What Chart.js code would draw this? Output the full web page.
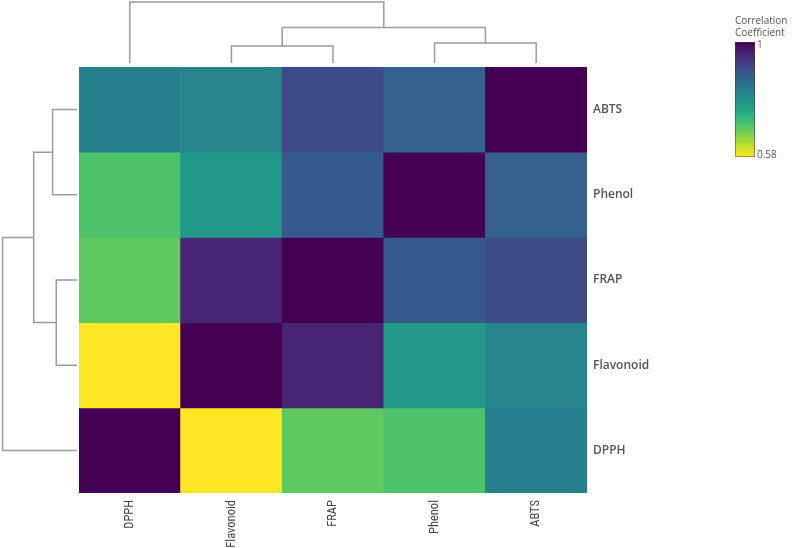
<!DOCTYPE html>
<html><head><meta charset="utf-8">
<script src="https://cdn.jsdelivr.net/npm/chart.js@4.4.1/dist/chart.umd.min.js"></script>
<style>html,body{margin:0;padding:0;background:#fff;} #c{display:block;}</style>
</head><body>
<canvas id="c" width="800" height="548"></canvas>
<script>
// ---- data ----
const columns = ['DPPH', 'Flavonoid', 'FRAP', 'Phenol', 'ABTS'];
const rows = ['ABTS', 'Phenol', 'FRAP', 'Flavonoid', 'DPPH']; // top to bottom
const corrABTS      = [0.819, 0.811, 0.903, 0.870, 1.000];
const corrPhenol    = [0.698, 0.775, 0.882, 1.000, 0.870];
const corrFRAP      = [0.685, 0.958, 1.000, 0.882, 0.903];
const corrFlavonoid = [0.580, 1.000, 0.958, 0.775, 0.811];
const corrDPPH      = [1.000, 0.580, 0.685, 0.698, 0.819];
const rowValues = [corrABTS, corrPhenol, corrFRAP, corrFlavonoid, corrDPPH];
const colorMin = 0.58, colorMax = 1;
const legendTitle = ['Correlation', 'Coefficient'];
const legendLabels = ['1', '0.58'];
// dendrogram merges (hierarchical clustering)
const mergeA = ['Flavonoid', 'Phenol', 'm1', 'DPPH'];
const mergeB = ['FRAP', 'ABTS', 'm2', 'm3'];
const mergeH = [17, 20, 35.5, 61];

// ---- viridis colour map ----
const viridis = ['#440154','#482475','#414487','#355f8d','#2a788e','#21918c','#22a884','#44bf70','#7ad151','#bddf26','#fde725'];
function hex2rgb(h){return [parseInt(h.substr(1,2),16),parseInt(h.substr(3,2),16),parseInt(h.substr(5,2),16)];}
function viridisAt(p){
  p = Math.max(0, Math.min(1, p));
  const n = viridis.length - 1, i = Math.min(n - 1, Math.floor(p * n)), f = p * n - i;
  const a = hex2rgb(viridis[i]), b = hex2rgb(viridis[i + 1]);
  return 'rgb(' + a.map((v, k) => Math.round(v + (b[k] - v) * f)).join(',') + ')';
}
function colorFor(v){ return viridisAt((colorMax - v) / (colorMax - colorMin)); }

const datasets = rows.map((r, i) => ({
  label: r,
  data: columns.map(() => [rows.length - 1 - i, rows.length - i]),
  backgroundColor: rowValues[i].map(colorFor),
  borderWidth: 0,
  grouped: false,
  barPercentage: 1,
  categoryPercentage: 1
}));

const dendroPlugin = {
  id: 'dendro',
  afterDraw(chart) {
    const ctx = chart.ctx, ca = chart.chartArea;
    const xs = chart.scales.x, ys = chart.scales.y;
    ctx.save();
    ctx.strokeStyle = '#9b9b9b';
    ctx.lineWidth = 1.5;
    function drawTree(leafPos, base, k, vertical) {
      const pos = {}, hgt = {};
      function P(n){ return n in pos ? pos[n] : leafPos(n); }
      function H(n){ return n in hgt ? hgt[n] : 0; }
      mergeA.forEach((a, i) => {
        const b = mergeB[i], h = mergeH[i];
        const pa = P(a), pb = P(b);
        const ha = base - H(a) * k, hb = base - H(b) * k, hh = base - h * k;
        ctx.beginPath();
        if (vertical) {
          ctx.moveTo(pa, ha); ctx.lineTo(pa, hh); ctx.lineTo(pb, hh); ctx.lineTo(pb, hb);
        } else {
          ctx.moveTo(ha, pa); ctx.lineTo(hh, pa); ctx.lineTo(hh, pb); ctx.lineTo(hb, pb);
        }
        ctx.stroke();
        const name = 'm' + (i + 1);
        pos[name] = (pa + pb) / 2; hgt[name] = h;
      });
    }
    drawTree(n => xs.getPixelForValue(columns.indexOf(n)), ca.top - 4, 1, true);
    drawTree(n => ys.getPixelForValue(rows.length - 1 - rows.indexOf(n) + 0.5), ca.left - 2, 1.22, false);

    // colour bar legend
    const bx = 735, bw = 20, by = 42, bh = 115;
    const g = ctx.createLinearGradient(0, by, 0, by + bh);
    for (let s = 0; s <= 20; s++) g.addColorStop(s / 20, viridisAt(s / 20));
    ctx.fillStyle = g;
    ctx.fillRect(bx, by, bw, bh);
    ctx.strokeStyle = 'rgba(60,60,60,0.5)'; ctx.lineWidth = 1;
    ctx.strokeRect(bx + 0.5, by + 0.5, bw - 1, bh - 1);
    ctx.fillStyle = '#555';
    ctx.font = '10px "Open Sans", sans-serif';
    ctx.textBaseline = 'middle'; ctx.textAlign = 'left';
    ctx.fillText(legendTitle[0], bx, 21);
    ctx.fillText(legendTitle[1], bx, 33);
    ctx.fillText(legendLabels[0], bx + bw + 2, by + 3);
    ctx.fillText(legendLabels[1], bx + bw + 2, by + bh - 2);
    ctx.restore();
  }
};

new Chart(document.getElementById('c'), {
  type: 'bar',
  data: { labels: columns, datasets },
  options: {
    responsive: false,
    animation: false,
    events: [],
    layout: { padding: { left: 79, top: 67, right: 113, bottom: 0 } },
    plugins: { legend: { display: false }, tooltip: { enabled: false } },
    scales: {
      x: {
        type: 'category',
        grid: { display: false, drawTicks: false },
        border: { display: false },
        ticks: {
          autoSkip: false, minRotation: 90, maxRotation: 90, padding: 7,
          color: '#444',
          font: { family: "'Liberation Sans Narrow', 'Roboto Condensed', Arial, sans-serif", size: 12.5 }
        },
        afterFit(axis) { axis.height = 55; }
      },
      y: {
        type: 'linear', position: 'right', min: 0, max: rows.length,
        grid: { display: false, drawTicks: false },
        border: { display: false },
        afterBuildTicks(axis) { axis.ticks = rows.map((r, i) => ({ value: i + 0.5 })); },
        ticks: {
          padding: 6, color: '#555',
          font: { family: "'Open Sans', sans-serif", size: 12, weight: '600' },
          callback(v) { return rows[rows.length - 1 - Math.floor(v)]; }
        },
        afterFit(axis) { axis.width = 100; }
      }
    }
  },
  plugins: [dendroPlugin]
});
</script>
</body></html>
